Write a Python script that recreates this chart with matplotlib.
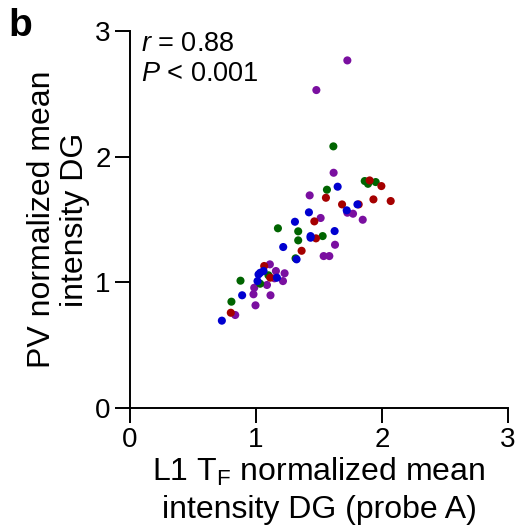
import numpy as np
import matplotlib
matplotlib.use("Agg")
import matplotlib.pyplot as plt

plt.rcParams["font.family"] = ["Liberation Sans", "DejaVu Sans"]
plt.rcParams["mathtext.fontset"] = "custom"
plt.rcParams["mathtext.rm"] = "Liberation Sans"
plt.rcParams["mathtext.it"] = "Liberation Sans:italic"

# values, one group per colour
purple_x = [1.616, 1.426, 1.725, 1.770, 1.847, 1.513, 1.627, 1.537, 1.582, 1.110,
            1.158, 1.227, 1.147, 1.214, 1.087, 0.986, 0.980, 1.115, 0.996, 0.835,
            1.725, 1.479]
purple_y = [1.872, 1.692, 1.554, 1.546, 1.498, 1.512, 1.299, 1.209, 1.209, 1.143,
            1.090, 1.072, 1.032, 1.010, 0.979, 0.957, 0.905, 0.897, 0.817, 0.740,
            2.766, 2.530]
green_x = [1.863, 1.889, 1.950, 1.563, 1.174, 1.335, 1.529, 1.335, 1.314, 1.099,
           1.033, 0.877, 0.805, 1.614]
green_y = [1.806, 1.784, 1.798, 1.737, 1.430, 1.406, 1.368, 1.334, 1.191, 1.056,
           0.989, 1.013, 0.846, 2.082]
red_x = [1.902, 1.995, 1.555, 1.932, 2.069, 1.683, 1.815, 1.463, 1.476, 1.362,
         1.065, 1.113, 0.800]
red_y = [1.811, 1.766, 1.673, 1.660, 1.647, 1.620, 1.620, 1.485, 1.350, 1.251,
         1.130, 1.037, 0.758]
blue_x = [1.648, 1.805, 1.720, 1.420, 1.309, 1.433, 1.433, 1.624, 1.216, 1.322,
          1.033, 1.060, 1.020, 1.166, 1.012, 0.890, 0.729]
blue_y = [1.761, 1.620, 1.573, 1.557, 1.482, 1.368, 1.355, 1.408, 1.281, 1.183,
          1.076, 1.090, 1.063, 1.037, 1.010, 0.897, 0.695]

groups = [
    (purple_x, purple_y, "#7a0fa0"),
    (green_x, green_y, "#006400"),
    (red_x, red_y, "#a50000"),
    (blue_x, blue_y, "#0000d0"),
]

fig = plt.figure(figsize=(5.16, 5.29), dpi=100, facecolor="white")
ax = fig.add_axes([130 / 516, 121 / 529, 378 / 516, 377 / 529])

for xs, ys, c in groups:
    ax.scatter(xs, ys, s=34, color=c, edgecolors="none", zorder=3, clip_on=False)

ax.set_xlim(0, 3)
ax.set_ylim(0, 3)
ax.set_xticks([0, 1, 2, 3])
ax.set_yticks([0, 1, 2, 3])
ax.spines["top"].set_visible(False)
ax.spines["right"].set_visible(False)
for s in ("left", "bottom"):
    ax.spines[s].set_linewidth(1.4)
ax.tick_params(direction="out", length=10.5, width=1.4, labelsize=20, pad=3.5)

ax.set_xlabel("L1 T$_\\mathregular{F}$ normalized mean\nintensity DG (probe A)",
              fontsize=23, linespacing=1.3, labelpad=2)
ax.set_ylabel("PV normalized mean\nintensity DG", fontsize=23, linespacing=1.15,
              labelpad=3.5)

ax.text(0.03, 1.0, "$\\mathit{r}$ = 0.88\n$\\mathit{P}$ < 0.001", transform=ax.transAxes,
        fontsize=19.5, va="top", ha="left", linespacing=1.2)

fig.text(0.017, 0.984, "b", fontsize=28, fontweight="bold", va="top", ha="left")

fig.savefig("out.png", dpi=100, facecolor="white")
